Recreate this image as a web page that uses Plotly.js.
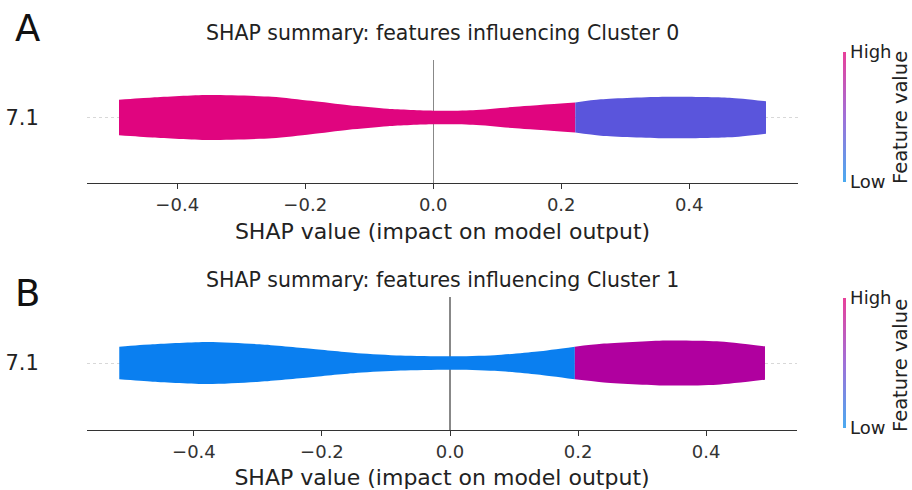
<!DOCTYPE html>
<html>
<head>
<meta charset="utf-8">
<script src="https://cdn.plot.ly/plotly-3.0.1.min.js"></script>
<style>html,body{margin:0;padding:0;background:#fff;}#chart{width:912px;height:490px;}</style>
</head>
<body>
<div id="chart"></div>
<script>
// Panel titles and labels
const panelLetters = ["A", "B"];
const panelTitles = ["SHAP summary: features influencing Cluster 0", "SHAP summary: features influencing Cluster 1"];
const featureName = "7.1";
const xTitle = "SHAP value (impact on model output)";
const xTickVals = [-0.4, -0.2, 0.0, 0.2, 0.4];
const xTickText = ["\u22120.4", "\u22120.2", "0.0", "0.2", "0.4"];

// Cluster 0: SHAP values and violin half-widths (density)
const c0LeftX = [-0.491, -0.439, -0.352, -0.252, -0.191, -0.132, -0.071, 0.0, 0.062, 0.129, 0.222];
const c0LeftW = [17.8, 20.0, 22.5, 20.8, 16.7, 12.2, 8.7, 6.8, 7.3, 10.8, 15.0];
const c0RightX = [0.222, 0.262, 0.3625, 0.463, 0.520];
const c0RightW = [15.0, 18.2, 20.8, 19.8, 16.2];

// Cluster 1
const c1LeftX = [-0.5166, -0.4645, -0.378, -0.2975, -0.217, -0.144, -0.077, 0.0, 0.0697, 0.1366, 0.195];
const c1LeftW = [16.3, 18.7, 21.0, 18.7, 14.2, 9.8, 7.5, 6.7, 7.8, 11.5, 16.3];
const c1RightX = [0.195, 0.2365, 0.337, 0.417, 0.492];
const c1RightW = [16.3, 19.2, 22.5, 21.7, 16.7];

const colHigh0 = "#e0057f", colLow0 = "#5a55dc";
const colLow1 = "#0a7ff0", colHigh1 = "#b0009f";

function violin(xs, ws, color, xa, ya) {
  const lower = {type: "scatter", mode: "lines", x: xs, y: ws.map(v => -v), xaxis: xa, yaxis: ya,
    line: {width: 0, color: color, shape: "spline", smoothing: 0.7}, hoverinfo: "skip", showlegend: false};
  const upper = {type: "scatter", mode: "lines", x: xs, y: ws, xaxis: xa, yaxis: ya, fill: "tonexty", fillcolor: color,
    line: {width: 0, color: color, shape: "spline", smoothing: 0.7}, hoverinfo: "skip", showlegend: false};
  return [lower, upper];
}

function cbTrace(xa, ya, yBottom) {
  return {type: "scatter", mode: "markers", x: [null], y: [null], xaxis: xa, yaxis: ya, showlegend: false,
    marker: {color: [0], cmin: 0, cmax: 1, showscale: true,
      colorscale: [[0, "#4aaaf0"], [0.5, "#a070d8"], [1, "#e8409a"]],
      colorbar: {xref: "container", yref: "container", x: 843/912, xanchor: "left", xpad: 0,
        y: yBottom, yanchor: "bottom", ypad: 0, len: 130, lenmode: "pixels", thickness: 3,
        outlinewidth: 0, ticks: "", tickvals: [0, 1], ticktext: ["Low", "High"],
        tickfont: {family: "DejaVu Sans", size: 18, color: "#222"}}}};
}

const data = [].concat(
  violin(c0LeftX, c0LeftW, colHigh0, "x", "y"),
  violin(c0RightX, c0RightW, colLow0, "x", "y"),
  violin(c1LeftX, c1LeftW, colLow1, "x2", "y2"),
  violin(c1RightX, c1RightW, colHigh1, "x2", "y2"),
  [cbTrace("x", "y", 1 - 182/490), cbTrace("x2", "y2", 1 - 428/490)]
);

const font = {family: "DejaVu Sans", color: "#222"};
function xaxis(range, domain, anchor) {
  return {range: range, domain: domain, anchor: anchor, showline: true, linecolor: "#333", linewidth: 1.2,
    ticks: "outside", ticklen: 5, tickcolor: "#333", tickvals: xTickVals, ticktext: xTickText,
    tickfont: {family: "DejaVu Sans", size: 18, color: "#333"}, showgrid: false,
    zeroline: true, zerolinecolor: "#888", zerolinewidth: 1.2, fixedrange: true,
    title: {text: xTitle, font: {family: "DejaVu Sans", size: 22, color: "#222"}, standoff: 9}};
}
function yaxis(range, domain, anchor) {
  return {range: range, domain: domain, anchor: anchor, showline: false, zeroline: false,
    tickvals: [0], ticktext: [featureName], ticks: "outside", ticklen: 43, tickcolor: "rgba(0,0,0,0)",
    tickfont: {family: "DejaVu Sans", size: 21, color: "#222"},
    showgrid: true, gridcolor: "#d8d8d8", griddash: "dot", gridwidth: 1, fixedrange: true};
}

const layout = {
  width: 912, height: 490, margin: {l: 0, r: 0, t: 0, b: 0, autoexpand: false},
  paper_bgcolor: "#fff", plot_bgcolor: "#fff", showlegend: false, font: font,
  xaxis: xaxis([-0.541, 0.570], [87/912, 798/912], "y"),
  yaxis: yaxis([-65.5, 57.5], [1 - 183/490, 1 - 60/490], "x"),
  xaxis2: xaxis([-0.567, 0.542], [87/912, 797/912], "y2"),
  yaxis2: yaxis([-67, 66], [1 - 430/490, 1 - 297/490], "x2"),
  annotations: [
    {text: panelLetters[0], xref: "paper", yref: "paper", x: 13/912, y: 1 - 28/490, xanchor: "left", yanchor: "middle", showarrow: false, font: {family: "DejaVu Sans", size: 37, color: "#111"}},
    {text: panelLetters[1], xref: "paper", yref: "paper", x: 13/912, y: 1 - 293/490, xanchor: "left", yanchor: "middle", showarrow: false, font: {family: "DejaVu Sans", size: 37, color: "#111"}},
    {text: panelTitles[0], xref: "paper", yref: "paper", x: 442.5/912, y: 1 - 33/490, xanchor: "center", yanchor: "middle", showarrow: false, font: {family: "DejaVu Sans", size: 20.5, color: "#222"}},
    {text: panelTitles[1], xref: "paper", yref: "paper", x: 442/912, y: 1 - 280/490, xanchor: "center", yanchor: "middle", showarrow: false, font: {family: "DejaVu Sans", size: 20.5, color: "#222"}},
    {text: "Feature value", xref: "paper", yref: "paper", x: 900/912, y: 1 - 118/490, xanchor: "center", yanchor: "middle", textangle: -90, showarrow: false, font: {family: "DejaVu Sans", size: 19.5, color: "#222"}},
    {text: "Feature value", xref: "paper", yref: "paper", x: 900/912, y: 1 - 366/490, xanchor: "center", yanchor: "middle", textangle: -90, showarrow: false, font: {family: "DejaVu Sans", size: 19.5, color: "#222"}}
  ]
};

Plotly.newPlot("chart", data, layout, {displayModeBar: false, staticPlot: true});
</script>
</body>
</html>
